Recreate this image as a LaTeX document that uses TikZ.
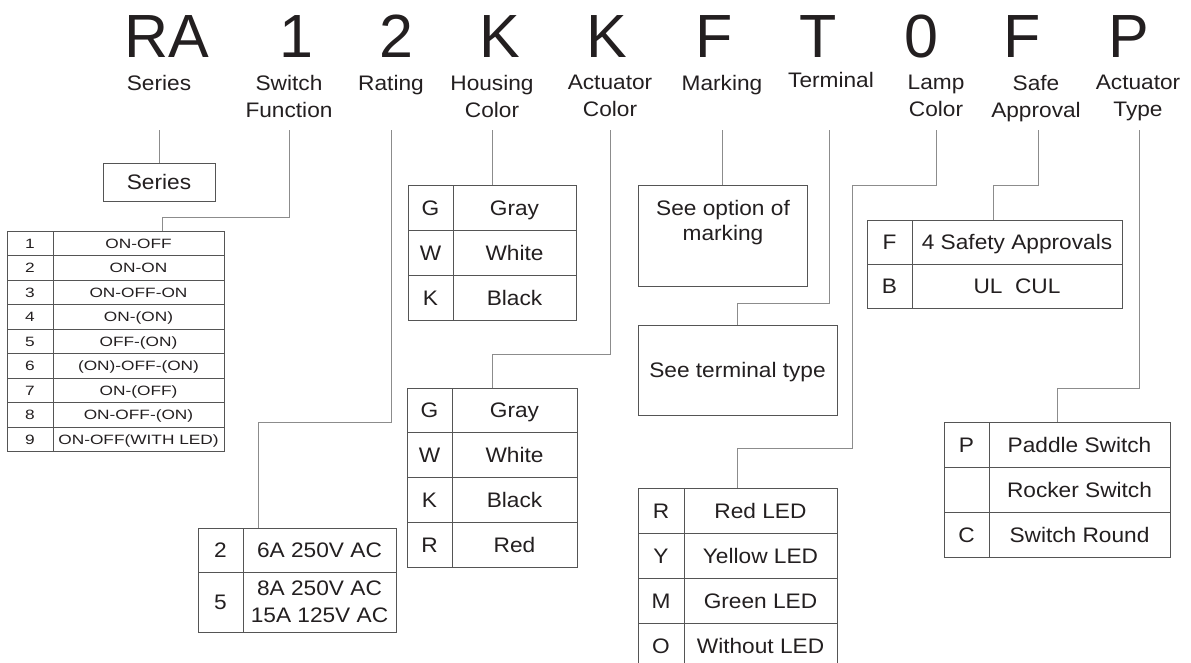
\documentclass[tikz,border=0pt]{standalone}
\usepackage{fontspec}
\setmainfont{Liberation Sans}[FakeStretch=1.08]
\newfontfamily\bigf{Liberation Sans}
\newfontfamily\smallf{Liberation Sans}[FakeStretch=1.28]
\definecolor{ink}{HTML}{231F20}
\definecolor{bord}{HTML}{555555}
\definecolor{connc}{HTML}{8C8C8C}
\newcommand\tabrowx[9]{%
  \node[cell,#1,minimum width={(#4-#3)*1pt},minimum height={#7*1pt}] (#2a) at (#3,#6) {#8};
  \node[cell,#1,minimum width={(#5-#4)*1pt},minimum height={#7*1pt}] (#2b) at (#4,#6) {#9};}
\tikzset{
  big/.style={font=\bigf\fontsize{61}{61}\selectfont, anchor=base, inner sep=0pt, text=ink},
  lbl/.style={font=\fontsize{21}{27}\selectfont, align=center, anchor=north, inner sep=0pt, text=ink},
  cell/.style={draw=bord, line width=1pt, inner sep=0pt, outer sep=0pt, anchor=north west,
    text=ink, font=\fontsize{21}{27}\selectfont, text height=15pt, text depth=0pt},
  smallrow/.style={font=\smallf\fontsize{13.5}{16}\selectfont, text height=9.7pt},
  conn/.style={draw=connc, line width=1pt}
}
\begin{document}
\begin{tikzpicture}[x=1pt,y=-1pt]
\clip (0,0) rectangle (1191,662);
\fill[white] (0,0) rectangle (1191,662);

% code letters
\node[big] (L1) at (167,57) {RA};
\node[big] (L2) at (296,57) {1};
\node[big] (L3) at (396,57) {2};
\node[big] (L4) at (500,57) {K};
\node[big] (L5) at (607,57) {K};
\node[big] (L6) at (714,57) {F};
\node[big] (L7) at (818,57) {T};
\node[big] (L8) at (921,57) {0};
\node[big] (L9) at (1022,57) {F};
\node[big] (L10) at (1129,57) {P};

% labels
\node[lbl] (T1) at (159,75) {Series};
\node[lbl] (T2) at (289,75) {Switch\\Function};
\node[lbl] (T3) at (391,75) {Rating};
\node[lbl] (T4) at (492,75) {Housing\\Color};
\node[lbl] (T5) at (610,75) {Actuator\\Color};
\node[lbl] (T6) at (722,75) {Marking};
\node[lbl] (T7) at (831,72) {Terminal};
\node[lbl] (T8) at (936,75) {Lamp\\Color};
\node[lbl] (T9) at (1036,75) {Safe\\Approval};
\node[lbl] (T10) at (1138,75) {Actuator\\Type};

% connector starts
\coordinate (c1) at (159,130);
\coordinate (c2) at (289,130);
\coordinate (c3) at (391,130);
\coordinate (c4) at (492,130);
\coordinate (c5) at (610,130);
\coordinate (c6) at (722,130);
\coordinate (c7) at (829,130);
\coordinate (c8) at (936,130);
\coordinate (c9) at (1038,130);
\coordinate (c10) at (1139,130);

% series box
\node[cell, minimum width=112pt, minimum height=38pt] (serbox) at (103,163) {Series};

% switch function table
\tabrowx{smallrow}{sw1}{7}{53}{224}{231}{24.55}{1}{ON-OFF}
\tabrowx{smallrow}{sw2}{7}{53}{224}{255.55}{24.55}{2}{ON-ON}
\tabrowx{smallrow}{sw3}{7}{53}{224}{280.1}{24.55}{3}{ON-OFF-ON}
\tabrowx{smallrow}{sw4}{7}{53}{224}{304.65}{24.55}{4}{ON-(ON)}
\tabrowx{smallrow}{sw5}{7}{53}{224}{329.2}{24.55}{5}{OFF-(ON)}
\tabrowx{smallrow}{sw6}{7}{53}{224}{353.75}{24.55}{6}{(ON)-OFF-(ON)}
\tabrowx{smallrow}{sw7}{7}{53}{224}{378.3}{24.55}{7}{ON-(OFF)}
\tabrowx{smallrow}{sw8}{7}{53}{224}{402.85}{24.55}{8}{ON-OFF-(ON)}
\tabrowx{smallrow}{sw9}{7}{53}{224}{427.4}{24.55}{9}{ON-OFF(WITH LED)}

% rating table
\tabrowx{}{rt1}{198}{243}{396}{528}{44}{2}{6A 250V AC}
\node[cell, minimum width=45pt, minimum height=60pt] (rt2a) at (198,572) {5};
\node[cell, text height=, text depth=, align=center, minimum width=153pt, minimum height=60pt] (rt2b) at (243,572) {8A 250V AC\\15A 125V AC};

% housing color table
\tabrowx{}{hc1}{408}{453}{576}{185}{45}{G}{Gray}
\tabrowx{}{hc2}{408}{453}{576}{230}{45}{W}{White}
\tabrowx{}{hc3}{408}{453}{576}{275}{45}{K}{Black}

% actuator color table
\tabrowx{}{ac1}{407}{452}{577}{388}{44.75}{G}{Gray}
\tabrowx{}{ac2}{407}{452}{577}{432.75}{44.75}{W}{White}
\tabrowx{}{ac3}{407}{452}{577}{477.5}{44.75}{K}{Black}
\tabrowx{}{ac4}{407}{452}{577}{522.25}{44.75}{R}{Red}

% marking box
\node[cell, minimum width=169pt, minimum height=101pt] (markbox) at (638,185) {};
\node[lbl, font=\fontsize{21}{25.5}\selectfont] (marktxt) at (723,200) {See option of\\marking};

% terminal box
\node[cell, minimum width=199pt, minimum height=90pt] (termbox) at (638,325) {See terminal type};

% lamp color table
\tabrowx{}{lc1}{638}{684}{837}{488}{45}{R}{Red LED}
\tabrowx{}{lc2}{638}{684}{837}{533}{45}{Y}{Yellow LED}
\tabrowx{}{lc3}{638}{684}{837}{578}{45}{M}{Green LED}
\tabrowx{}{lc4}{638}{684}{837}{623}{45}{O}{Without LED}

% safe approval table
\tabrowx{}{sa1}{867}{912}{1122}{220}{44}{F}{4 Safety Approvals}
\tabrowx{}{sa2}{867}{912}{1122}{264}{44}{B}{UL\ \ CUL}

% actuator type table
\tabrowx{}{at1}{944}{989}{1170}{422}{45}{P}{Paddle Switch}
\tabrowx{}{at2}{944}{989}{1170}{467}{45}{}{Rocker Switch}
\tabrowx{}{at3}{944}{989}{1170}{512}{45}{C}{Switch Round}

% connectors
\draw[conn] (c1) -- (serbox.north);
\coordinate (j2) at (162,217);
\draw[conn] (c2) |- (j2) -- (j2 |- sw1b.north);
\coordinate (j3) at (258,422);
\draw[conn] (c3) |- (j3) -- (j3 |- rt1b.north);
\draw[conn] (c4) -- (c4 |- hc1b.north);
\coordinate (j5) at (492,354);
\draw[conn] (c5) |- (j5) -- (j5 |- ac1b.north);
\draw[conn] (c6) -- (c6 |- markbox.north);
\coordinate (j7) at (737.5,303);
\draw[conn] (c7) |- (j7) -- (termbox.north);
\coordinate (j8a) at (852,185);
\coordinate (j8b) at (737,448);
\draw[conn] (c8) |- (j8a) |- (j8b) -- (j8b |- lc1b.north);
\coordinate (j9) at (993,185);
\draw[conn] (c9) |- (j9) -- (j9 |- sa1b.north);
\coordinate (j10) at (1057,388);
\draw[conn] (c10) |- (j10) -- (j10 |- at1b.north);
\end{tikzpicture}
\end{document}
